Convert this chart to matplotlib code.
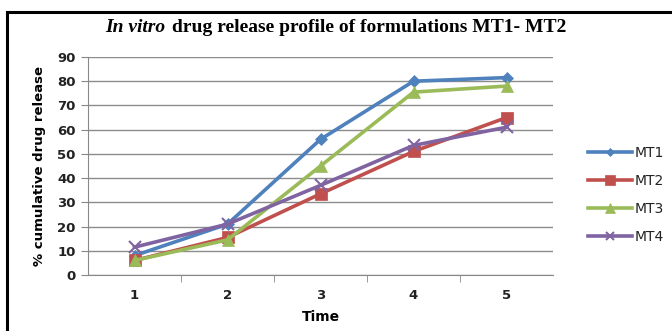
import matplotlib
matplotlib.use("Agg")
import matplotlib.pyplot as plt
from matplotlib.patches import Rectangle

time_points = [1, 2, 3, 4, 5]
mt1 = [8, 21, 56, 80, 81.5]
mt2 = [6, 15.5, 33.5, 51, 65]
mt3 = [6, 14.5, 45, 75.5, 78]
mt4 = [11.5, 21, 37, 53.5, 61]
series_names = ["MT1", "MT2", "MT3", "MT4"]
y_ticks = [0, 10, 20, 30, 40, 50, 60, 70, 80, 90]

colors = ["#4F81BD", "#C0504D", "#9BBB59", "#8064A2"]
markers = ["D", "s", "^", "x"]
msizes = [6, 9, 9, 8]

W, H = 672, 331
fig = plt.figure(figsize=(W / 100, H / 100), dpi=100)
fig.patch.set_facecolor("white")

# outer frame
fig.patches.append(Rectangle((7 / W, -0.05), 1.0, (H - 12) / H + 0.05,
                             transform=fig.transFigure, fill=False,
                             edgecolor="black", linewidth=2.2, zorder=0))

ax = fig.add_axes([88 / W, (H - 275) / H, (553 - 88) / W, (275 - 57) / H])

for vals, name, c, m, ms in zip([mt1, mt2, mt3, mt4], series_names, colors, markers, msizes):
    ax.plot(time_points, vals, color=c, marker=m, markersize=ms, linewidth=2.6,
            markeredgewidth=1.5 if m == "x" else 0.5, markeredgecolor=c,
            label=name, zorder=3)

ax.set_xlim(0.5, 5.5)
ax.set_ylim(0, 90)
ax.set_yticks(y_ticks)
ax.set_xticks(time_points)
ax.set_xticks([1.5, 2.5, 3.5, 4.5], minor=True)
ax.tick_params(axis="x", which="major", length=0, pad=10)
ax.tick_params(axis="x", which="minor", length=5, color="#888888", direction="out")
ax.tick_params(axis="y", length=5, color="#888888", direction="out", pad=4)
for lab in ax.get_xticklabels() + ax.get_yticklabels():
    lab.set_fontweight("bold")
    lab.set_fontsize(9.5)
    lab.set_color("#222222")

ax.grid(axis="y", color="#8c8c8c", linewidth=1.0)
ax.set_axisbelow(True)
for s in ["top", "right"]:
    ax.spines[s].set_visible(False)
ax.spines["left"].set_color("#888888")
ax.spines["bottom"].set_color("#888888")

ax.set_xlabel("Time", fontweight="bold", fontsize=10, labelpad=6)
ax.set_ylabel("% cumulative drug release", fontweight="bold", fontsize=9.5, labelpad=8)

title_y = (H - 28) / H
fig.text(105 / W, title_y, "In vitro", fontsize=14, family="Liberation Serif",
         style="italic", fontweight="bold", ha="left", va="center")
fig.text(172 / W, title_y, "drug release profile of formulations MT1- MT2",
         fontsize=14, family="Liberation Serif", fontweight="bold",
         ha="left", va="center")

leg = fig.legend(loc="center left", bbox_to_anchor=(575 / W, (H - 195) / H),
                 frameon=False, fontsize=10, handlelength=3.2, labelspacing=1.0,
                 handletextpad=0.2, markerscale=0.75)
for t in leg.get_texts():
    t.set_color("#222222")

fig.savefig("out.png", dpi=100)
